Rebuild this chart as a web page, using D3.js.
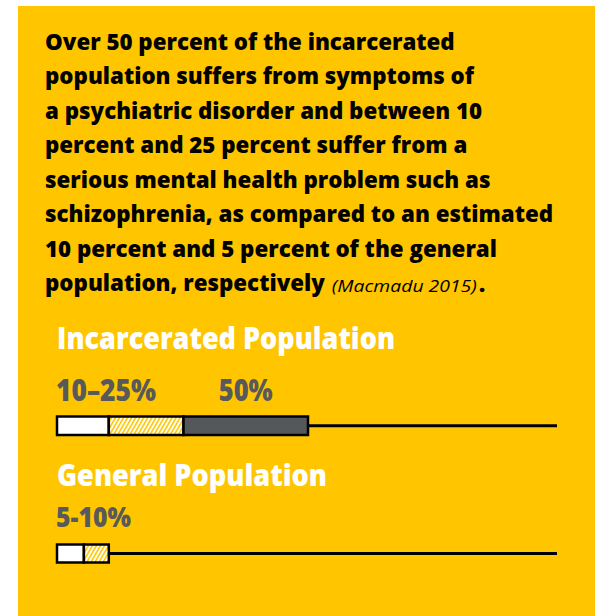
<!DOCTYPE html>
<html>
<head>
<meta charset="utf-8">
<script src="https://cdn.jsdelivr.net/npm/d3@7"></script>
<style>
  body { margin: 0; background: #fff; }
  svg { display: block; }
  text { font-variant-ligatures: none; }
</style>
</head>
<body>
<script>
var width = 595,
  height = 616;

// text of the callout
var introLines = [
  'Over 50 percent of the incarcerated',
  'population suffers from symptoms of',
  'a psychiatric disorder and between 10',
  'percent and 25 percent suffer from a',
  'serious mental health problem such as',
  'schizophrenia, as compared to an estimated',
  '10 percent and 5 percent of the general',
  'population, respectively'
];
var citation = '(Macmadu 2015)';

// the two groups and their shares (percent)
var groups = ['Incarcerated Population', 'General Population'];
var lowValues = [10, 5];     // lower bound of the range
var highValues = [25, 10];   // upper bound of the range
var overallValues = [50, null]; // symptoms of a disorder
var rangeLabels = ['10\u201325%', '5-10%'];
var overallLabels = ['50%', null];

var yellow = '#ffc600',
  dark = '#54585a',
  grey = '#58595b',
  font = '"Open Sans", sans-serif';

var x = d3.scaleLinear().domain([0, 100]).range([59, 557]);

var svg = d3.select('body').append('svg')
  .attr('width', width)
  .attr('height', height);

var defs = svg.append('defs');
var hatch = defs.append('pattern')
  .attr('id', 'hatch')
  .attr('patternUnits', 'userSpaceOnUse')
  .attr('width', 3.5)
  .attr('height', 3.5)
  .attr('patternTransform', 'rotate(30)');
hatch.append('rect').attr('width', 3.5).attr('height', 3.5).attr('fill', '#fff');
hatch.append('line')
  .attr('x1', 0.8).attr('x2', 0.8).attr('y1', 0).attr('y2', 3.5)
  .attr('stroke', yellow).attr('stroke-width', 1.6);

svg.append('rect')
  .attr('x', 18).attr('y', 6)
  .attr('width', width - 18).attr('height', height - 6)
  .attr('fill', yellow);

// intro paragraph, one text per line, squeezed sideways to the original width
var introG = svg.append('g');
var intro = introG.selectAll('text.intro')
  .data(introLines)
  .enter().append('text')
  .attr('class', 'intro')
  .attr('x', 0)
  .attr('y', function(d, i) { return 50 + i * 34.5; })
  .attr('font-family', font)
  .attr('font-weight', 800)
  .attr('font-size', 23)
  .attr('fill', '#000')
  .text(function(d) { return d; });

var k = 410 / intro.node().getComputedTextLength();
introG.attr('transform', 'translate(45,0) scale(' + k + ',1)');

var lastLine = intro.filter(function(d, i) { return i === introLines.length - 1; });
var lastEnd = 45 + k * lastLine.node().getComputedTextLength();
var lastY = 50 + (introLines.length - 1) * 34.5;
svg.append('text')
  .attr('x', lastEnd + 7)
  .attr('y', lastY)
  .attr('font-family', font)
  .attr('font-style', 'italic')
  .attr('font-size', 17)
  .attr('textLength', 145)
  .attr('lengthAdjust', 'spacingAndGlyphs')
  .attr('fill', '#000')
  .text(citation);
svg.append('text')
  .attr('x', lastEnd + 7 + 147)
  .attr('y', lastY)
  .attr('font-family', font)
  .attr('font-weight', 800)
  .attr('font-size', 23)
  .text('.');

// groups
var g = svg.selectAll('g.group')
  .data(groups)
  .enter().append('g')
  .attr('class', 'group')
  .attr('transform', function(d, i) { return 'translate(0,' + [0, 137][i] + ')'; });

g.append('text')
  .attr('x', 57)
  .attr('y', 349)
  .attr('font-family', font)
  .attr('font-weight', 800)
  .attr('font-size', 29.5)
  .attr('textLength', function(d, i) { return [338, 270][i]; })
  .attr('lengthAdjust', 'spacingAndGlyphs')
  .attr('fill', '#fff')
  .text(function(d) { return d; });

g.append('text')
  .attr('x', 56)
  .attr('y', function(d, i) { return i === 0 ? 401 : 390; })
  .attr('font-family', font)
  .attr('font-weight', 800)
  .attr('font-size', function(d, i) { return i === 0 ? 30.5 : 28; })
  .attr('textLength', function(d, i) { return [100, 75][i]; })
  .attr('lengthAdjust', 'spacingAndGlyphs')
  .attr('fill', grey)
  .text(function(d, i) { return rangeLabels[i]; });

g.filter(function(d, i) { return overallValues[i] != null; })
  .append('text')
  .attr('x', function(d) {
    var i = groups.indexOf(d);
    return (x(highValues[i]) + x(overallValues[i])) / 2 - 27;
  })
  .attr('y', 401)
  .attr('font-family', font)
  .attr('font-weight', 800)
  .attr('font-size', 30.5)
  .attr('textLength', 54)
  .attr('lengthAdjust', 'spacingAndGlyphs')
  .attr('fill', grey)
  .text(function(d) { return overallLabels[groups.indexOf(d)]; });

// bars
g.each(function(d, i) {
  var sel = d3.select(this);
  var barY = i === 0 ? 416.5 : 407.5;
  var barH = i === 0 ? 18.5 : 18;
  var end = overallValues[i] != null ? overallValues[i] : highValues[i];

  sel.append('line')
    .attr('x1', x(end)).attr('x2', x(100))
    .attr('y1', barY + barH / 2).attr('y2', barY + barH / 2)
    .attr('stroke', '#000').attr('stroke-width', 3);

  var segs = [[0, lowValues[i], '#fff'], [lowValues[i], highValues[i], 'url(#hatch)']];
  if (overallValues[i] != null) segs.push([highValues[i], overallValues[i], dark]);

  sel.selectAll('rect.seg')
    .data(segs)
    .enter().append('rect')
    .attr('class', 'seg')
    .attr('x', function(s) { return s[0] === 0 ? x(0) - 2 : x(s[0]); })
    .attr('y', barY)
    .attr('width', function(s) { return x(s[1]) - (s[0] === 0 ? x(0) - 2 : x(s[0])); })
    .attr('height', barH)
    .attr('fill', function(s) { return s[2]; })
    .attr('stroke', '#000')
    .attr('stroke-width', 2.5);
});
</script>
</body>
</html>
